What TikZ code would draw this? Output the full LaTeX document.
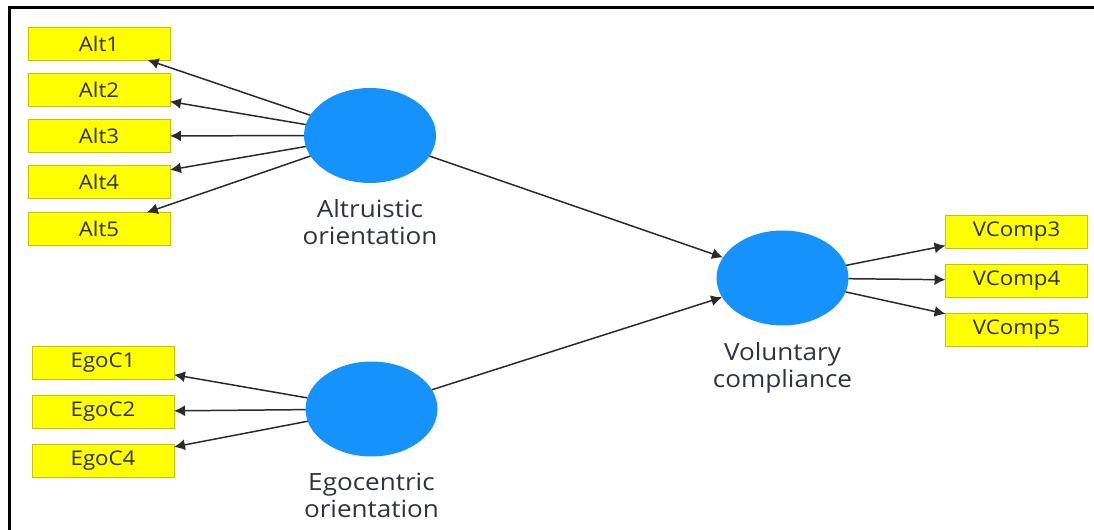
\documentclass[tikz,border=0pt]{standalone}
\usepackage{fontspec}
\setmainfont{Open Sans}[FakeStretch=1.1]
\usetikzlibrary{arrows.meta,positioning,shapes.geometric}
\definecolor{plsBlue}{HTML}{1592FB}
\definecolor{plsYellow}{HTML}{FFFF00}
\definecolor{plsEdge}{HTML}{C9C200}
\definecolor{plsInk}{HTML}{2E2E22}
\definecolor{plsLabel}{HTML}{2F3340}
\definecolor{plsLine}{HTML}{2A2A2A}
\tikzset{
  plsitem/.style={rectangle,draw=plsEdge,fill=plsYellow,line width=0.5pt,
                  minimum width=2.84cm,minimum height=0.66cm,inner sep=0pt,
                  outer sep=0pt,text=plsInk,font=\fontsize{11.5}{13}\selectfont},
  plsconstruct/.style={ellipse,fill=plsBlue,minimum width=2.64cm,
                       minimum height=1.9cm,inner sep=0pt,outer sep=0pt},
  plsarrow/.style={-{Latex[length=2.2mm,width=2.2mm]},line width=0.85pt,plsLine},
  plslabel/.style={font=\fontsize{13.5}{15.3}\selectfont,align=center,
                   text=plsLabel}
}

\begin{document}
\begin{tikzpicture}[x=0.02cm,y=-0.02cm]
    \useasboundingbox (0,0) rectangle (1094,530);
    \draw[line width=1.6pt,black] (9.5,530) -- (9.5,7.5) -- (1094,7.5);

    % altruistic orientation
    \node[plsconstruct] (alt) at (370,135.5) {};
    \node[plslabel,below=6pt of alt] (altlab) {Altruistic\\orientation};
    \node[plsitem] (alt1) at (99,43.5) {Alt1};
    \node[plsitem] (alt2) at (99,89.5) {Alt2};
    \node[plsitem] (alt3) at (99,136) {Alt3};
    \node[plsitem] (alt4) at (99,182) {Alt4};
    \node[plsitem] (alt5) at (99,229) {Alt5};
    \draw[plsarrow] (alt) -- (alt1);
    \draw[plsarrow] (alt) -- (alt2);
    \draw[plsarrow] (alt) -- (alt3);
    \draw[plsarrow] (alt) -- (alt4);
    \draw[plsarrow] (alt) -- (alt5);

    % egocentric orientation
    \node[plsconstruct] (ego) at (371.5,409) {};
    \node[plslabel,below=6pt of ego] (egolab) {Egocentric\\orientation};
    \node[plsitem] (ego1) at (103,362.5) {EgoC1};
    \node[plsitem] (ego2) at (103,411.5) {EgoC2};
    \node[plsitem] (ego4) at (103,460.5) {EgoC4};
    \draw[plsarrow] (ego) -- (ego1);
    \draw[plsarrow] (ego) -- (ego2);
    \draw[plsarrow] (ego) -- (ego4);

    % voluntary compliance
    \node[plsconstruct] (vc) at (782.5,278) {};
    \node[plslabel,below=6pt of vc] (vclab) {Voluntary\\compliance};
    \node[plsitem] (vc3) at (1016.5,231.5) {VComp3};
    \node[plsitem] (vc4) at (1016.5,280.5) {VComp4};
    \node[plsitem] (vc5) at (1016.5,329.5) {VComp5};
    \draw[plsarrow] (vc) -- (vc3);
    \draw[plsarrow] (vc) -- (vc4);
    \draw[plsarrow] (vc) -- (vc5);

    \draw[plsarrow] (alt) -- (vc);
    \draw[plsarrow] (ego) -- (vc);
\end{tikzpicture}
\end{document}
